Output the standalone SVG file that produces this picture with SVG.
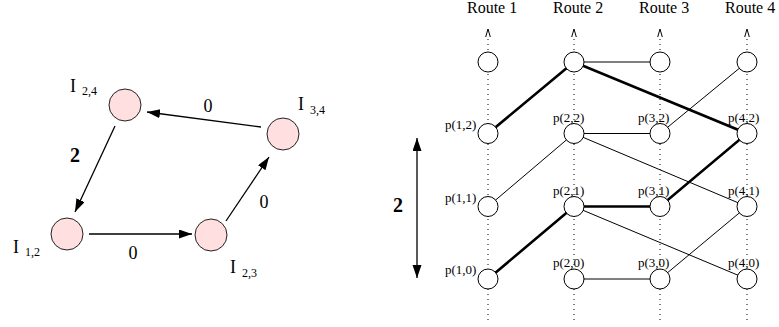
<svg xmlns="http://www.w3.org/2000/svg" width="779" height="327" viewBox="0 0 779 327">
<style>
text{font-family:"Liberation Serif","Times New Roman",serif;fill:#000}
.big{font-size:18px}
.sub{font-size:12px}
.lbl{font-size:18px}
.bold{font-size:20px;font-weight:bold}
.route{font-size:16px}
.p{font-size:13px}
.pink{fill:#ffdfe0;stroke:#222;stroke-width:1}
.w{fill:#fff;stroke:#000;stroke-width:1}
.arr{stroke:#000;stroke-width:1.3;fill:none}
.thin{stroke:#000;stroke-width:1;fill:none}
.thick{stroke:#000;stroke-width:2.6;fill:none}
.dot{stroke:#000;stroke-width:1;stroke-dasharray:1 4;fill:none}
.open{stroke:#000;stroke-width:1;fill:none}
</style>
<defs>
<marker id="ah" markerUnits="userSpaceOnUse" markerWidth="14" markerHeight="10" refX="13" refY="4.5" orient="auto">
<path d="M0,0 L13,4.5 L0,9 z" fill="#000"/>
</marker>
</defs>

<g id="connectors-left">
<line class="arr" x1="261" y1="127" x2="147" y2="112" marker-end="url(#ah)"/>
<line class="arr" x1="115" y1="126" x2="75" y2="212" marker-end="url(#ah)"/>
<line class="arr" x1="89" y1="234" x2="192" y2="234" marker-end="url(#ah)"/>
<line class="arr" x1="226" y1="221" x2="269" y2="157" marker-end="url(#ah)"/>
<text class="lbl" x="208" y="112" text-anchor="middle">0</text>
<text class="bold" x="75" y="162" text-anchor="middle">2</text>
<text class="lbl" x="264" y="208" text-anchor="middle">0</text>
<text class="lbl" x="133" y="259" text-anchor="middle">0</text>
</g>

<g id="I24">
<circle class="pink" cx="125" cy="105" r="16"/>
<text class="big" x="70" y="91.5">I</text><text class="sub" x="82" y="95">2,4</text>
</g>
<g id="I34">
<circle class="pink" cx="283" cy="134" r="16"/>
<text class="big" x="298" y="110">I</text><text class="sub" x="310" y="113.5">3,4</text>
</g>
<g id="I12">
<circle class="pink" cx="67" cy="234" r="16"/>
<text class="big" x="13" y="252.5">I</text><text class="sub" x="25" y="255.5">1,2</text>
</g>
<g id="I23">
<circle class="pink" cx="211" cy="235" r="16"/>
<text class="big" x="230" y="273">I</text><text class="sub" x="242" y="276.5">2,3</text>
</g>

<g id="routes">
<text class="route" x="467" y="13">Route 1</text>
<text class="route" x="553" y="13">Route 2</text>
<text class="route" x="639" y="13">Route 3</text>
<text class="route" x="725" y="13">Route 4</text>
</g>

<g id="scale">
<line class="arr" x1="417" y1="150" x2="417" y2="266"/>
<line class="arr" x1="417" y1="150" x2="417" y2="138" marker-end="url(#ah)"/>
<line class="arr" x1="417" y1="266" x2="417" y2="278" marker-end="url(#ah)"/>
<text class="bold" x="398" y="212" text-anchor="middle">2</text>
</g>

<g id="connectors">
<line class="dot" x1="488" y1="39" x2="488" y2="322"/>
<line class="dot" x1="574" y1="39" x2="574" y2="322"/>
<line class="dot" x1="660" y1="39" x2="660" y2="322"/>
<line class="dot" x1="747" y1="39" x2="747" y2="322"/>
<path class="open" d="M485.7,37 L488,29 L490.3,37"/>
<path class="open" d="M571.7,37 L574,29 L576.3,37"/>
<path class="open" d="M657.7,37 L660,29 L662.3,37"/>
<path class="open" d="M744.7,37 L747,29 L749.3,37"/>
<line class="thin" x1="574" y1="62" x2="660" y2="62"/>
<line class="thin" x1="747" y1="62" x2="660" y2="133.5"/>
<line class="thin" x1="574" y1="133.5" x2="660" y2="133.5"/>
<line class="thin" x1="488" y1="206.5" x2="574" y2="133.5"/>
<line class="thin" x1="574" y1="133.5" x2="747" y2="206.5"/>
<line class="thin" x1="574" y1="206.5" x2="747" y2="279"/>
<line class="thin" x1="660" y1="279" x2="747" y2="206.5"/>
<line class="thin" x1="574" y1="279" x2="660" y2="279"/>
<polyline class="thick" points="488,133.5 574,62 747,133.5 660,206.5 574,206.5 488,279"/>
</g>

<g id="top1"><circle class="w" cx="488" cy="62" r="10"/></g>
<g id="top2"><circle class="w" cx="574" cy="62" r="10"/></g>
<g id="top3"><circle class="w" cx="660" cy="62" r="10"/></g>
<g id="top4"><circle class="w" cx="747" cy="62" r="10"/></g>

<g id="p12"><circle class="w" cx="488" cy="133.5" r="10"/><text class="p" x="445" y="129">p(1,2)</text></g>
<g id="p22"><circle class="w" cx="574" cy="133.5" r="10"/><text class="p" x="553" y="122">p(2,2)</text></g>
<g id="p32"><circle class="w" cx="660" cy="133.5" r="10"/><text class="p" x="638" y="122">p(3,2)</text></g>
<g id="p42"><circle class="w" cx="747" cy="133.5" r="10"/><text class="p" x="728" y="122">p(4,2)</text></g>

<g id="p11"><circle class="w" cx="488" cy="206.5" r="10"/><text class="p" x="445" y="202">p(1,1)</text></g>
<g id="p21"><circle class="w" cx="574" cy="206.5" r="10"/><text class="p" x="553" y="195">p(2,1)</text></g>
<g id="p31"><circle class="w" cx="660" cy="206.5" r="10"/><text class="p" x="638" y="195">p(3,1)</text></g>
<g id="p41"><circle class="w" cx="747" cy="206.5" r="10"/><text class="p" x="728" y="195">p(4,1)</text></g>

<g id="p10"><circle class="w" cx="488" cy="279" r="10"/><text class="p" x="445" y="274">p(1,0)</text></g>
<g id="p20"><circle class="w" cx="574" cy="279" r="10"/><text class="p" x="553" y="267">p(2,0)</text></g>
<g id="p30"><circle class="w" cx="660" cy="279" r="10"/><text class="p" x="638" y="267">p(3,0)</text></g>
<g id="p40"><circle class="w" cx="747" cy="279" r="10"/><text class="p" x="728" y="267">p(4,0)</text></g>
</svg>
